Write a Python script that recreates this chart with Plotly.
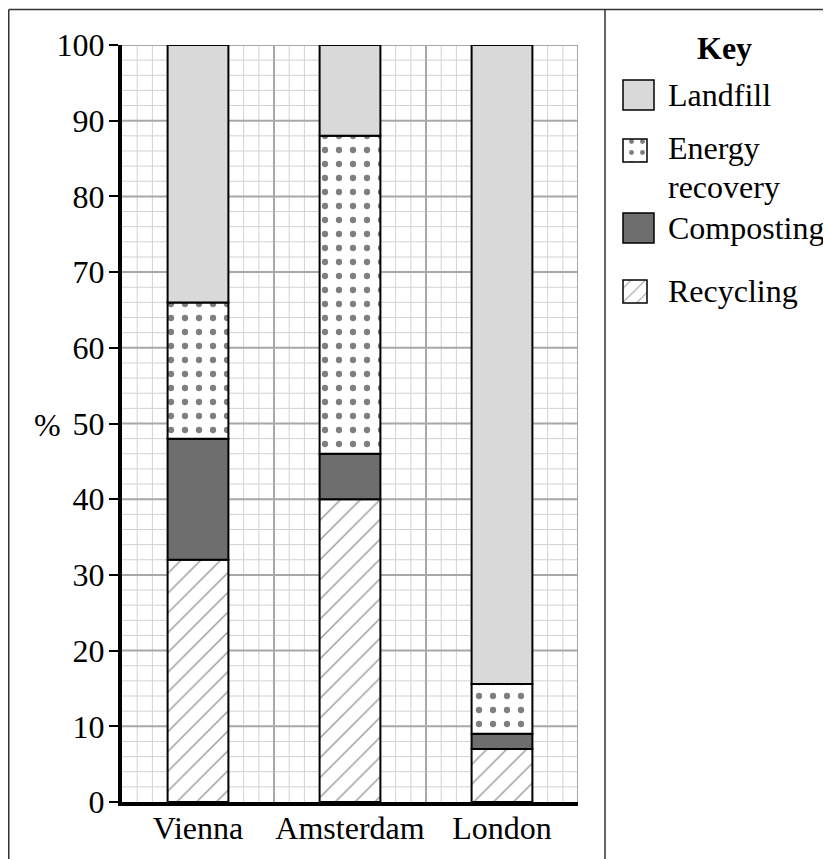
import numpy as np
import plotly.graph_objects as go

W, H = 831, 859
OFF = 8  # page body margin: screen = figure + OFF

cities = ["Vienna", "Amsterdam", "London"]
series_names = ["Recycling", "Composting", "Energy recovery", "Landfill"]
recycling = [32, 40, 7]
composting = [16, 6, 2]
energy = [18, 42, 6.6]
landfill = [34, 12, 84.4]
y_ticks = list(range(0, 101, 10))

FONT = "Liberation Serif, Times New Roman, serif"
FS = 32

styles = {
    "Recycling": dict(color="white", pattern=dict(shape="/", fgcolor="#333333", bgcolor="white", size=14, solidity=0.1)),
    "Composting": dict(color="#6e6e6e"),
    "Energy recovery": dict(color="white", pattern=dict(shape=".", fgcolor="black", bgcolor="white", size=14, solidity=0.16)),
    "Landfill": dict(color="#d9d9d9"),
}

vals = [recycling, composting, energy, landfill]
bases = np.cumsum([[0, 0, 0]] + vals[:-1], axis=0)

fig = go.Figure()
for name, v, b in zip(series_names, vals, bases):
    m = dict(styles[name])
    m["line"] = dict(color="black", width=2)
    fig.add_trace(go.Bar(x=cities, y=v, base=list(b), name=name, marker=m,
                         xaxis="x", yaxis="y", showlegend=False, hoverinfo="skip"))


def px(x):
    return (x - OFF) / W


def py(y):
    return 1 - (y - OFF) / H


# plot area in screen pixels
PX0, PX1, PY0, PY1 = 122, 578, 45, 802

# grid shapes (cells: 30 across, 50 up)
shapes = []
ncols = 30
minor_c, major_c = "#d2d2d2", "#a8a8a8"
for c in range(1, ncols + 1):
    xv = -0.5 + c * 3 / ncols
    if c % 10:
        shapes.append(dict(type="line", xref="x", yref="y", x0=xv, x1=xv, y0=0, y1=100,
                           line=dict(color=minor_c, width=1), layer="below"))
for yv in range(2, 101, 2):
    if yv % 10:
        shapes.append(dict(type="line", xref="x", yref="y", x0=-0.5, x1=2.5, y0=yv, y1=yv,
                           line=dict(color=minor_c, width=1), layer="below"))
for c in range(10, ncols + 1, 10):
    xv = -0.5 + c * 3 / ncols
    shapes.append(dict(type="line", xref="x", yref="y", x0=xv, x1=xv, y0=0, y1=100,
                       line=dict(color=major_c, width=2), layer="below"))
for yv in range(10, 101, 10):
    shapes.append(dict(type="line", xref="x", yref="y", x0=-0.5, x1=2.5, y0=yv, y1=yv,
                       line=dict(color=major_c, width=2), layer="below"))

# frame
frame_col = "#333333"
fx, fy = px(8.75), py(9.5)
shapes.append(dict(type="line", xref="paper", yref="paper", x0=fx, x1=fx, y0=fy, y1=0,
                   line=dict(color=frame_col, width=1.5)))
shapes.append(dict(type="line", xref="paper", yref="paper", x0=fx, x1=1, y0=fy, y1=fy,
                   line=dict(color=frame_col, width=1.5)))
shapes.append(dict(type="line", xref="paper", yref="paper", x0=px(605), x1=px(605), y0=fy, y1=0,
                   line=dict(color=frame_col, width=1.5)))

# legend swatches drawn as bars on a pixel-scaled subplot
LX0, LX1, LY0, LY1 = 615, 665, 70, 320
swatches = {
    "Landfill": (623, 654, 80, 110),
    "Energy recovery": (623, 647, 139, 162),
    "Composting": (623, 654, 213, 243),
    "Recycling": (623, 647, 280, 303),
}
for name, (x0, x1, y0, y1) in swatches.items():
    m = dict(styles[name])
    if "pattern" in m:
        p = dict(m["pattern"])
        p["size"] = 10 if name == "Recycling" else 11
        m["pattern"] = p
    m["line"] = dict(color="black", width=1.5)
    fig.add_trace(go.Bar(x=[(x0 + x1) / 2], y=[y1 - y0], base=[y0], width=[x1 - x0],
                         marker=m, xaxis="x2", yaxis="y2", showlegend=False, hoverinfo="skip"))

annotations = [
    dict(text="%", x=px(47), y=py(425), xref="paper", yref="paper", showarrow=False,
         font=dict(family=FONT, size=FS, color="black"), xanchor="center", yanchor="middle"),
    dict(text="<b>Key</b>", x=px(724), y=py(48), xref="paper", yref="paper", showarrow=False,
         font=dict(family=FONT, size=FS, color="black"), xanchor="center", yanchor="middle"),
]
legend_text = [("Landfill", 95), ("Energy", 148), ("recovery", 187), ("Composting", 228), ("Recycling", 291)]
for t, yc in legend_text:
    annotations.append(dict(text=t, x=px(666), y=py(yc), xref="paper", yref="paper", showarrow=False,
                            font=dict(family=FONT, size=FS, color="black"), xanchor="left", yanchor="middle"))

fig.update_layout(
    width=W, height=H,
    margin=dict(l=0, r=0, t=0, b=0, autoexpand=False),
    paper_bgcolor="white", plot_bgcolor="rgba(0,0,0,0)",
    barmode="overlay", bargap=0.6,
    xaxis=dict(domain=[px(PX0), px(PX1)], range=[-0.5, 2.5], type="category",
               categoryorder="array", categoryarray=cities, automargin=False,
               showgrid=False, zeroline=False, showline=True, linecolor="black", linewidth=4,
               ticks="", ticklabelstandoff=-5,
               tickfont=dict(family=FONT, size=FS, color="black"), anchor="y", fixedrange=True),
    yaxis=dict(domain=[py(PY1), py(PY0)], range=[0, 100], tickvals=y_ticks, automargin=False,
               showgrid=False, zeroline=False, showline=True, linecolor="black", linewidth=4,
               ticks="outside", ticklen=9, tickwidth=1.5, tickcolor="black", ticklabelstandoff=-2,
               tickfont=dict(family=FONT, size=FS, color="black"), anchor="x", fixedrange=True),
    xaxis2=dict(domain=[px(LX0), px(LX1)], range=[LX0, LX1], visible=False, anchor="y2",
                automargin=False, fixedrange=True),
    yaxis2=dict(domain=[py(LY1), py(LY0)], range=[LY1, LY0], visible=False, anchor="x2",
                automargin=False, fixedrange=True),
    shapes=shapes,
    annotations=annotations,
    showlegend=False,
    font=dict(family=FONT, color="black"),
)

fig.write_html("out.html")
